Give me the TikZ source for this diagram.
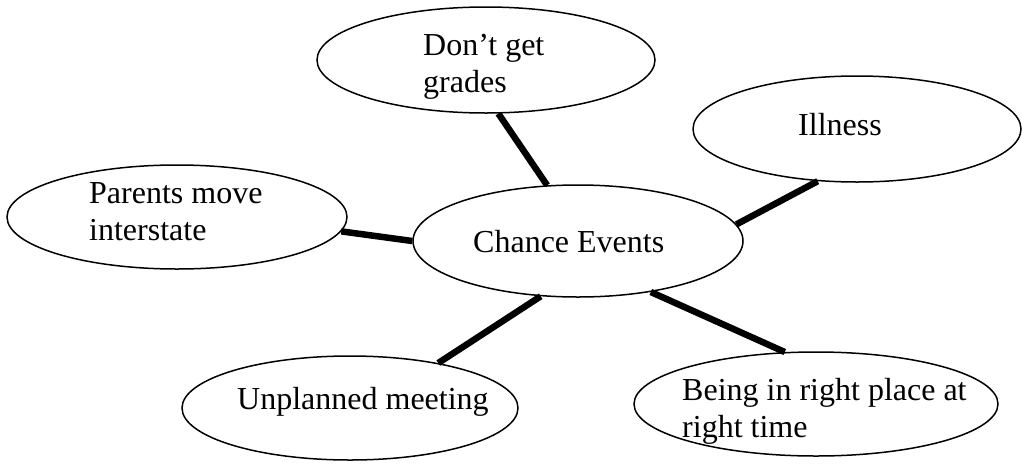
\documentclass[tikz,border=0pt]{standalone}
\usepackage{fontspec}
\setmainfont{Liberation Serif}
\usetikzlibrary{shapes.geometric}
\begin{document}
\begin{tikzpicture}[x=1pt,y=-1pt,
  bubble/.style={ellipse, draw, line width=1.5pt, inner sep=0pt, fill=white},
  lbl/.style={anchor=base west, inner sep=0pt, align=left, font=\fontsize{32}{37}\selectfont},
  link/.style={line width=6.5pt}]
\useasboundingbox (0,0) rectangle (1022,464);
\node[bubble, minimum width=330pt, minimum height=112pt] (c) at (578,241) {};
\node[bubble, minimum width=338pt, minimum height=106pt] (top) at (486,60) {};
\node[bubble, minimum width=328pt, minimum height=106pt] (ill) at (857,129) {};
\node[bubble, minimum width=340pt, minimum height=104pt] (par) at (177,217) {};
\node[bubble, minimum width=336pt, minimum height=104pt] (unp) at (350,408) {};
\node[bubble, minimum width=364pt, minimum height=104pt] (bei) at (816,404) {};
\node[lbl] (tc) at (473,252) {Chance Events};
\node[lbl] (tt) at (423,92) {Don’t get\\grades};
\node[lbl] (ti) at (798,135) {Illness};
\node[lbl] (tp) at (89,240) {Parents move\\interstate};
\node[lbl] (tu) at (237,409) {Unplanned meeting};
\node[lbl] (tb) at (682,437) {Being in right place at\\right time};
\draw[link] (c.119) -- (top.283);
\draw[link] (c.6) -- (ill.233);
\draw[link] (c.180) -- (par.355);
\draw[link] (c.236) -- (unp.27);
\draw[link] (c.325) -- (bei.121);
\end{tikzpicture}
\end{document}
